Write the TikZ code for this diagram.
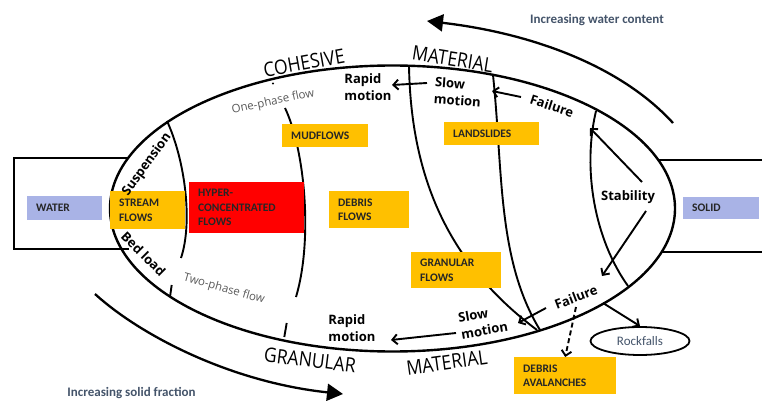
\documentclass[tikz,border=0pt]{standalone}
\usepackage{fontspec}
\setmainfont{Open Sans}
\newfontfamily\calfont{Carlito}
\usetikzlibrary{arrows.meta,shapes.geometric}
\definecolor{boxorange}{HTML}{FFC000}
\definecolor{boxred}{HTML}{FF0000}
\definecolor{lilac}{HTML}{A9B3E6}
\definecolor{slate}{HTML}{44546A}
\definecolor{flowgray}{HTML}{5A5A5A}
\definecolor{boxtext}{HTML}{262626}
\begin{document}
\begin{tikzpicture}[x=1pt,y=-1pt,
  outl/.style={line width=2.4pt},
  inl/.style={line width=1.9pt},
  smallarr/.style={line width=1.9pt,-{Straight Barb[length=5pt,width=10pt]}},
  bigarr/.style={line width=2.3pt,-{Triangle[length=16pt,width=17pt]}},
  cbox/.style={anchor=north west, inner xsep=9pt, inner ysep=0pt, align=left,
    font=\calfont\bfseries\fontsize{11.5}{14.5}\selectfont, text=boxtext},
  bigtxt/.style={font=\fontsize{20}{20}\selectfont, inner sep=0pt},
  lbl/.style={font=\bfseries\fontsize{13}{17}\selectfont, align=left, inner sep=0pt},
  flowlbl/.style={font=\fontsize{11.5}{12}\selectfont, text=flowgray, inner sep=0pt},
  inctxt/.style={font=\calfont\bfseries\fontsize{13}{14}\selectfont, text=slate, inner sep=0pt},
]
\useasboundingbox (0,0) rectangle (762,401);

% side rectangles
\coordinate (wl1) at (127,158);
\coordinate (wl2) at (129,249);
\coordinate (sr1) at (659,160);
\coordinate (sr2) at (661,252);
\draw[outl] (wl1) -- (14,158) -- (14,249) -- (wl2);
\draw[outl] (sr1) -- (762,160);
\draw[outl] (sr2) -- (762,252);

% main ellipse
\node[draw, ellipse, outl, minimum width=565pt, minimum height=286pt, inner sep=0pt] (mainell) at (392.5,208.5) {};

% inner dividing lines
\coordinate (s0) at (167,121); \coordinate (s1) at (181,258);
\draw[inl] (s0) .. controls (185,160) and (193,222) .. (s1);
\coordinate (m0) at (285,108); \coordinate (m1) at (296,297);
\draw[inl] (m0) .. controls (305,150) and (313,240) .. (m1);
\coordinate (a0) at (409,66); \coordinate (a1) at (537,330);
\draw[inl] (a0) .. controls (411,180) and (450,265) .. (a1);
\coordinate (b0) at (493,75); \coordinate (b1) at (540,330);
\draw[inl] (b0) .. controls (503,170) and (497,260) .. (b1);
\coordinate (c0) at (596,111); \coordinate (c1) at (628,286);
\draw[inl] (c0) .. controls (582,170) and (595,240) .. (c1);

% ticks
\coordinate (t1a) at (171.7,285); \coordinate (t1b) at (170,297);
\draw[inl] (t1a) -- (t1b);
\coordinate (t2a) at (286.7,323); \coordinate (t2b) at (284.3,337);
\draw[inl] (t2a) -- (t2b);
\fill (273,83.5) circle[radius=1.2pt];

% boxes
\node[cbox, fill=lilac, text width=57pt, minimum height=24pt] (water) at (27,196) {WATER};
\node[cbox, fill=lilac, text width=58pt, minimum height=22pt] (solid) at (683,197) {SOLID};
\node[cbox, fill=boxorange, text width=57pt, minimum height=38pt] (stream) at (110,191) {STREAM\\FLOWS};
\node[cbox, fill=boxred, text width=97pt, minimum height=51pt] (hyper) at (189,182) {HYPER-\\CONCENTRATED\\FLOWS};
\node[cbox, fill=boxorange, text width=68pt, minimum height=23pt] (mud) at (282,124) {MUDFLOWS};
\node[cbox, fill=boxorange, text width=62pt, minimum height=37pt] (debris) at (329,191) {DEBRIS\\FLOWS};
\node[cbox, fill=boxorange, text width=77pt, minimum height=23pt] (land) at (444,122) {LANDSLIDES};
\node[cbox, fill=boxorange, text width=72pt, minimum height=36pt] (gran) at (411,252) {GRANULAR\\FLOWS};
\node[cbox, fill=boxorange, text width=84pt, minimum height=37pt] (aval) at (514,357) {DEBRIS\\AVALANCHES};

\node[draw, ellipse, line width=1.8pt, minimum width=99pt, minimum height=28pt, inner sep=0pt,
  font=\calfont\fontsize{13}{14}\selectfont, text=slate] (rock) at (640,341) {Rockfalls};

% big labels
\node[bigtxt, rotate=10] (coh) at (304,63) {\scalebox{0.88}[1]{COHESIVE}};
\node[bigtxt, rotate=-9] (mattop) at (452.7,59) {\scalebox{0.88}[1]{MATERIAL}};
\node[bigtxt, rotate=-7] (gra) at (310,360) {\scalebox{0.88}[1]{GRANULAR}};
\node[bigtxt, rotate=8] (matbot) at (446.8,362.5) {\scalebox{0.88}[1]{MATERIAL}};

% motion labels
\node[lbl] (rapidtop) at (368,87) {Rapid\\motion};
\node[lbl, rotate=-4] (slowtop) at (458,92) {Slow\\motion};
\node[lbl, rotate=-18] (failtop) at (552,106) {Failure};
\node[lbl] (stab) at (628,197) {Stability};
\node[lbl, rotate=21] (failbot) at (576,297) {Failure};
\node[lbl, rotate=10] (slowbot) at (483,322) {Slow\\motion};
\node[lbl] (rapidbot) at (352,328) {Rapid\\motion};
\node[lbl, rotate=54] (susp) at (147,164.5) {Suspension};
\node[lbl, rotate=-45] (bed) at (143.5,254) {Bed load};
\node[flowlbl, rotate=12] (onep) at (273,102) {One-phase flow};
\node[flowlbl, rotate=-16] (twop) at (224,289) {Two-phase flow};

\node[inctxt] (incw) at (597,20) {Increasing water content};
\node[inctxt] (incs) at (131.5,393) {Increasing solid fraction};

% big arrows
\coordinate (wa0) at (673,123); \coordinate (wa1) at (427,21);
\draw[bigarr] (wa0) .. controls (620,65) and (530,33) .. (wa1);
\coordinate (sa0) at (95,294); \coordinate (sa1) at (343,394);
\draw[bigarr] (sa0) .. controls (140,335) and (230,382) .. (sa1);

% small arrows
\coordinate (ar1a) at (427,83); \coordinate (ar1b) at (392,85);
\draw[smallarr] (ar1a) -- (ar1b);
\coordinate (ar2a) at (521,97); \coordinate (ar2b) at (492,91);
\draw[smallarr] (ar2a) -- (ar2b);
\coordinate (ar3a) at (642,182); \coordinate (ar3b) at (590,128);
\draw[smallarr] (ar3a) -- (ar3b);
\coordinate (ar4a) at (646,211); \coordinate (ar4b) at (602,276);
\draw[smallarr] (ar4a) -- (ar4b);
\coordinate (ar5a) at (546,308); \coordinate (ar5b) at (518,323);
\draw[smallarr] (ar5a) -- (ar5b);
\coordinate (ar6a) at (456,333); \coordinate (ar6b) at (391,340);
\draw[smallarr] (ar6a) -- (ar6b);
\coordinate (ar7a) at (576,307);
\draw[smallarr, dashed, dash pattern=on 5pt off 3pt] (ar7a) -- (aval.north);
\coordinate (ar8a) at (603,303);
\draw[smallarr] (ar8a) -- (rock.north);
\end{tikzpicture}
\end{document}
